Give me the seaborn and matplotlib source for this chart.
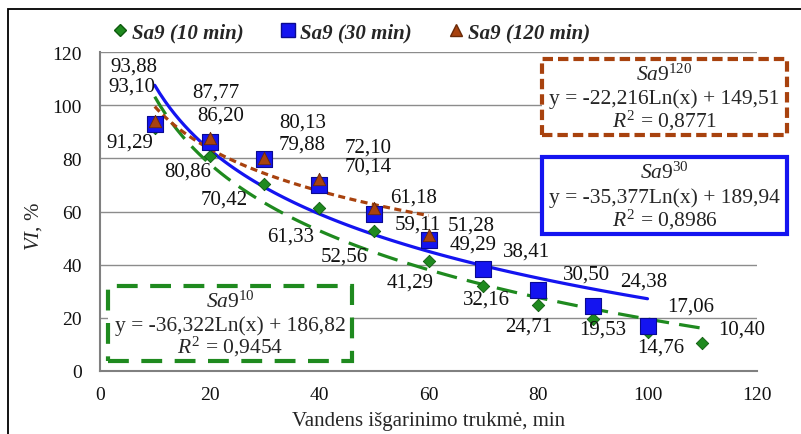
import matplotlib
matplotlib.use("Agg")
import matplotlib.pyplot as plt
import numpy as np
import pandas as pd
import seaborn as sns
from matplotlib.lines import Line2D
from matplotlib.patches import Rectangle

# data
t_10 = [10, 20, 30, 40, 50, 60, 70, 80, 90, 100, 110]
vi_10 = [91.29, 80.86, 70.42, 61.33, 52.56, 41.29, 32.16, 24.71, 19.53, 14.76, 10.40]
t_30 = [10, 20, 30, 40, 50, 60, 70, 80, 90, 100]
vi_30 = [93.10, 86.20, 79.88, 70.14, 59.11, 49.29, 38.41, 30.50, 24.38, 17.06]
t_120 = [10, 20, 30, 40, 50, 60]
vi_120 = [93.88, 87.77, 80.13, 72.10, 61.18, 51.28]

series_names = ["Sa9 (10 min)", "Sa9 (30 min)", "Sa9 (120 min)"]
eq_titles = ["10", "30", "120"]
eq_lines = ["y = -36,322Ln(x) + 186,82", "y = -35,377Ln(x) + 189,94", "y = -22,216Ln(x) + 149,51"]
r2_values = ["0,9454", "0,8986", "0,8771"]

# label offsets in pixels (dx, dy with y pointing down)
off_10 = [(-25, 14), (-22, 15), (-40, 15), (-28, 28), (-30, 25), (-18, 21),
          (3, 14), (-9, 21), (10, 10), (13, 15), (39, -14)]
off_30 = [(-23, -37), (11, -27), (38, -15), (49, -18), (44, 10), (45, 4),
          (43, -18), (49, -16), (51, -25), (43, -20)]
off_120 = [(-21, -55), (6, -46), (38, -36), (49, -32), (40, -11), (43, -10)]

GREEN = "#1f8a1f"
BLUE = "#1414f0"
BROWN = "#a8420e"

sns.set_style("white")
plt.rcParams["font.family"] = ["Liberation Serif", "DejaVu Serif"]
plt.rcParams["mathtext.fontset"] = "custom"
plt.rcParams["mathtext.rm"] = "Liberation Serif"
plt.rcParams["mathtext.it"] = "Liberation Serif:italic"
plt.rcParams["mathtext.bf"] = "Liberation Serif:bold"

W, H = 801, 435
fig = plt.figure(figsize=(W / 100, H / 100), dpi=100)
ax = fig.add_axes([100 / W, 1 - 372 / H, 657 / W, 319 / H])


def fpx(x, y):
    return (x / W, 1 - y / H)


df10 = pd.DataFrame({"t": t_10, "vi": vi_10})
df30 = pd.DataFrame({"t": t_30, "vi": vi_30})
df120 = pd.DataFrame({"t": t_120, "vi": vi_120})

# log trendlines
sns.regplot(data=df10, x="t", y="vi", logx=True, ci=None, scatter=False, ax=ax,
            line_kws=dict(color=GREEN, lw=2.3, dashes=(6.5, 3.2), zorder=3))
sns.regplot(data=df30, x="t", y="vi", logx=True, ci=None, scatter=False, ax=ax,
            line_kws=dict(color=BLUE, lw=2.3, zorder=3))
sns.regplot(data=df120, x="t", y="vi", logx=True, ci=None, scatter=False, ax=ax,
            line_kws=dict(color=BROWN, lw=2.3, dashes=(2.2, 1.4), zorder=3))

sns.scatterplot(data=df10, x="t", y="vi", marker="D", s=40, color=GREEN,
                edgecolor="#0e5a0e", linewidth=0.6, ax=ax, zorder=4)
sns.scatterplot(data=df30, x="t", y="vi", marker="s", s=120, color=BLUE,
                edgecolor="#0a0a90", linewidth=0.8, ax=ax, zorder=5)
sns.scatterplot(data=df120, x="t", y="vi", marker="^", s=80, color=BROWN,
                edgecolor="#6a2a08", linewidth=0.6, ax=ax, zorder=6)

for xs, ys, offs in [(t_10, vi_10, off_10), (t_30, vi_30, off_30), (t_120, vi_120, off_120)]:
    for x, y, (dx, dy) in zip(xs, ys, offs):
        ax.annotate(f"{y:.2f}".replace(".", ","), xy=(x, y), xytext=(dx, -dy),
                    textcoords="offset pixels", ha="center", va="center",
                    fontsize=15, color="#111111", zorder=7)

ax.set_xlim(0, 120)
ax.set_ylim(0, 120)
ax.set_xticks(range(0, 121, 20))
ax.set_yticks(range(0, 121, 20))
ax.grid(axis="y", color="#8c8c8c", lw=1)
ax.set_axisbelow(True)
for s in ["top", "right"]:
    ax.spines[s].set_visible(False)
for s in ["left", "bottom"]:
    ax.spines[s].set_color("#808080")
    ax.spines[s].set_linewidth(1.5)
ax.tick_params(axis="both", direction="out", length=5, width=1.2, color="#808080",
               labelsize=14, labelcolor="#111111")
ax.tick_params(axis="y", pad=8)
ax.tick_params(axis="x", pad=6)
ax.set_xlabel("Vandens išgarinimo trukmė, min", fontsize=15)
ax.xaxis.set_label_coords(0.5, -0.125)
ax.set_ylabel(r"$\mathit{VI}$, %", fontsize=15)
ax.yaxis.set_label_coords(-0.085, 0.455)

# legend
handles = [
    Line2D([], [], ls="none", marker="D", ms=6, color=GREEN, mec="#0e5a0e"),
    Line2D([], [], ls="none", marker="s", ms=10, color=BLUE, mec="#0a0a90"),
    Line2D([], [], ls="none", marker="^", ms=9, color=BROWN, mec="#6a2a08"),
]
fig.legend(handles, series_names, loc="center", bbox_to_anchor=fpx(350, 33),
           ncol=3, frameon=False, handletextpad=0.1, columnspacing=1.6,
           handlelength=1.0, prop=dict(family="Liberation Serif", weight="bold",
                                       style="italic", size=15))

# equation boxes
boxes = [
    (108, 287, 352, 362, GREEN, (0, (5, 3)), 2),
    (542, 158, 787, 235, BLUE, "-", 0),
    (542, 60, 787, 136, BROWN, (0, (2.5, 1.2)), 1),
]
for x0, y0, x1, y1, col, ls, i in boxes:
    fig.patches.append(Rectangle(fpx(x0, y1), (x1 - x0) / W, (y1 - y0) / H,
                                 transform=fig.transFigure, fill=True, fc="white",
                                 ec=col, lw=3, ls=ls, zorder=8))
idx_map = {2: 0, 0: 1, 1: 2}
for x0, y0, x1, y1, col, ls, i in boxes:
    k = idx_map[i]
    cx = (x0 + x1) / 2
    h = y1 - y0
    fig.text(*fpx(cx, y0 + 0.2 * h), r"$\mathit{Sa9}^{\mathit{%s}}$" % eq_titles[k],
             ha="center", va="center", fontsize=15.5, zorder=9)
    fig.text(*fpx(cx, y0 + 0.52 * h), eq_lines[k], ha="center", va="center",
             fontsize=15.5, zorder=9)
    fig.text(*fpx(cx, y0 + 0.8 * h), r"$R^2$ = " + r2_values[k], ha="center",
             va="center", fontsize=15.5, zorder=9)

# outer chart frame (cut by the image edge)
fig.patches.append(Rectangle(fpx(8, 500), 1.2, (500 - 10) / H, transform=fig.transFigure,
                             fill=False, ec="black", lw=1.3, zorder=10))

fig.savefig("out.png", dpi=100)
